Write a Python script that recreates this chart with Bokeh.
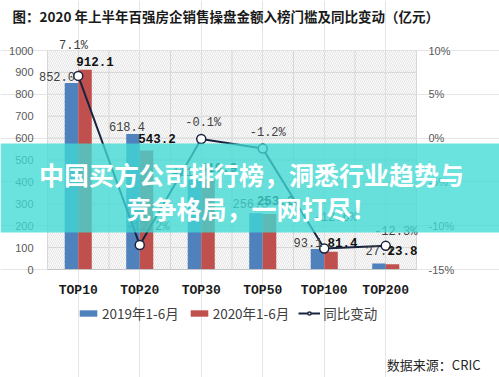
from bokeh.plotting import figure
from bokeh.models import (Range1d, LinearAxis, FixedTicker, PrintfTickFormatter, ColumnDataSource,
                          LabelSet, Label, BoxAnnotation, Legend, LegendItem)
from bokeh.transform import dodge
from bokeh.core.properties import value
from bokeh.embed import file_html
from bokeh.resources import INLINE

# ---------------- data ----------------
categories = ["TOP10", "TOP20", "TOP30", "TOP50", "TOP100", "TOP200"]
sales_2019 = [852.0, 618.4, 411.3, 256.3, 93.1, 27.1]
sales_2020 = [912.1, 543.2, 410.9, 253.2, 81.4, 23.8]
yoy_pct = [7.1, -12.2, -0.1, -1.2, -12.6, -12.3]
left_ticks = [0, 100, 200, 300, 400, 500, 600, 700, 800, 900, 1000]
right_ticks = [-15, -10, -5, 0, 5, 10]
series_names = ["2019年1-6月", "2020年1-6月", "同比变动"]
title_text = "图：2020 年上半年百强房企销售操盘金额入榜门槛及同比变动（亿元）"
source_text = "数据来源：CRIC"
banner_lines = ["中国买方公司排行榜，洞悉行业趋势与", "竞争格局，一网打尽！"]

# label nudges in px (x right, y up) -- layout only
dx19 = [-14.5, -6, -5, -5.5, -9.5, 1]
dy19 = [6.4, 7.6, 8, 10, 6.6, 13]
dx20 = [10, 10.5, 10.5, 6, 11.5, 10]
dy20 = [8.6, 12, 12, 13.6, 9, 14]
dxp = [-4.75, 8, 2, 5, 11, 10]
dyp = [30, 18, 16, 16, 30, 14]

# ---------------- layout (pixels) ----------------
W, H = 499, 377
PL, PR, PT, PB = 47, 416, 50, 269   # plot area edges on the canvas

positions = list(range(1, len(categories) + 1))          # category slots on the x scale
edges = [q - 0.5 for q in positions] + [positions[-1] + 0.5]
kx = (PR - PL) / (edges[-1] - edges[0])
ky = (PB - PT) / (left_ticks[-1] - left_ticks[0])
kp = (PB - PT) / (right_ticks[-1] - right_ticks[0])
x_start, x_end = edges[0] - PL / kx, edges[-1] + (W - PR) / kx
y_start, y_end = left_ticks[0] - (H - PB) / ky, left_ticks[-1] + PT / ky
p_start, p_end = right_ticks[0] - (H - PB) / kp, right_ticks[-1] + PT / kp

src = ColumnDataSource(dict(
    x=positions, cat=categories, v19=sales_2019, v20=sales_2020, pct=yoy_pct,
    t19=["%.1f" % v for v in sales_2019],
    t20=["%.1f" % v for v in sales_2020],
    tp=["%.1f%%" % v for v in yoy_pct],
    dx19=dx19, dy19=dy19, dx20=dx20, dy20=dy20, dxp=dxp, dyp=dyp,
))

p = figure(width=W, height=H, x_range=Range1d(x_start, x_end), y_range=Range1d(y_start, y_end),
           x_axis_location=None, y_axis_location=None, min_border=0,
           output_backend="svg", toolbar_location=None,
           outline_line_color=None, background_fill_color="white", border_fill_color="white")
p.title.visible = False
p.extra_y_ranges = {"pct": Range1d(p_start, p_end)}

grey = "#595959"
gridc = "#d9d9d9"

def style_axis(a, standoff, font, size, color, bold=False):
    a.axis_line_color = None
    a.major_tick_line_color = None
    a.minor_tick_line_color = None
    a.major_tick_out = 0
    a.major_tick_in = 0
    a.major_label_standoff = standoff
    a.major_label_text_font = font
    a.major_label_text_font_size = size
    a.major_label_text_color = color
    if bold:
        a.major_label_text_font_style = "bold"

yl = LinearAxis(fixed_location=edges[0], ticker=FixedTicker(ticks=left_ticks),
                bounds=(left_ticks[0], left_ticks[-1]))
style_axis(yl, 14, "Liberation Sans", "11px", grey)
p.add_layout(yl, "left")

yr = LinearAxis(y_range_name="pct", fixed_location=edges[-1], ticker=FixedTicker(ticks=right_ticks),
                formatter=PrintfTickFormatter(format="%d%%"), bounds=(right_ticks[0], right_ticks[-1]))
style_axis(yr, 12, "Liberation Sans", "11px", grey)
p.add_layout(yr, "right")

xb = LinearAxis(fixed_location=left_ticks[0], ticker=FixedTicker(ticks=positions),
                major_label_overrides={q: c for q, c in zip(positions, categories)},
                bounds=(edges[0], edges[-1]))
style_axis(xb, 13, "Liberation Mono", "13px", "#1a1a1a", bold=True)
xb.axis_line_color = "#c4c4c4"
p.add_layout(xb, "below")

# plot-area background hatch and grid
p.add_layout(BoxAnnotation(left=edges[0], right=edges[-1], bottom=left_ticks[0], top=left_ticks[-1],
                           fill_alpha=0, line_color=None, hatch_pattern="\\", hatch_color="#cfcfcf",
                           hatch_scale=4, hatch_weight=0.6, level="underlay"))
p.segment(x0=[edges[0]] * len(left_ticks), x1=[edges[-1]] * len(left_ticks), y0=left_ticks, y1=left_ticks,
          line_color=gridc, line_width=1, level="underlay")
p.segment(x0=edges, x1=edges, y0=[left_ticks[0]] * len(edges), y1=[left_ticks[-1]] * len(edges),
          line_color=gridc, line_width=1, level="underlay")

blue = "#4f81bd"
red = "#c0504d"
navy = "#17233f"
b19 = p.vbar(x=dodge("x", -0.11), top="v19", width=0.22, source=src, fill_color=blue, line_color=None)
b20 = p.vbar(x=dodge("x", 0.11), top="v20", width=0.22, source=src, fill_color=red, line_color=None)
ln = p.line(x="x", y="pct", y_range_name="pct", source=src, line_color=navy, line_width=2)
sc = p.scatter(x="x", y="pct", y_range_name="pct", source=src, marker="circle", size=9,
               fill_color="white", line_color=navy, line_width=1.5)

# data labels
p.add_layout(LabelSet(x=dodge("x", -0.11), y="v19", text="t19", x_offset="dx19", y_offset="dy19",
                      source=src, text_align="center", text_baseline="middle",
                      text_font=value("Liberation Mono"), text_font_size="12px", text_color="#404040"))
p.add_layout(LabelSet(x=dodge("x", 0.11), y="v20", text="t20", x_offset="dx20", y_offset="dy20",
                      source=src, text_align="center", text_baseline="middle",
                      text_font=value("Liberation Mono"), text_font_style="bold",
                      text_font_size="12.5px", text_color="#111111"))
p.add_layout(LabelSet(x="x", y="pct", y_range_name="pct", text="tp", x_offset="dxp", y_offset="dyp",
                      source=src, text_align="center", text_baseline="middle",
                      text_font=value("Liberation Mono"), text_font_size="12px", text_color="#404040"))

legend = Legend(items=[LegendItem(label=series_names[0], renderers=[b19]),
                       LegendItem(label=series_names[1], renderers=[b20]),
                       LegendItem(label=series_names[2], renderers=[ln, sc])],
                location=(77, 54), orientation="horizontal", glyph_width=22, glyph_height=8,
                label_standoff=3, spacing=9, padding=0, margin=0, border_line_color=None,
                background_fill_alpha=0, label_text_font="Noto Sans CJK SC",
                label_text_font_size="13.5px", label_text_color="#404040", label_height=14)
p.add_layout(legend)

# title & source
p.add_layout(Label(x=12, y=H - 15, x_units="screen", y_units="screen", text=title_text,
                   text_font="Noto Sans CJK SC", text_font_style="bold", text_font_size="13.5px",
                   text_baseline="middle", text_align="left", text_color="#1a1a1a"))
p.add_layout(Label(x=480, y=H - 364, x_units="screen", y_units="screen", text=source_text,
                   text_font="Noto Sans CJK SC", text_font_size="13px",
                   text_baseline="middle", text_align="right", text_color="#262626"))

# banner overlay
p.add_layout(BoxAnnotation(left=0, right=W, top=H - 143, bottom=H - 232,
                           left_units="screen", right_units="screen",
                           top_units="screen", bottom_units="screen",
                           fill_color="#40dad5", fill_alpha=0.78, line_color=None, level="overlay"))
for txt, yc in zip(banner_lines, [173, 207]):
    p.add_layout(Label(x=251, y=H - yc, x_units="screen", y_units="screen", text=txt,
                       text_font="Noto Sans CJK SC", text_font_style="bold", text_font_size="25px",
                       text_baseline="middle", text_align="center", text_color="white",
                       level="overlay"))

open("out.html", "w").write(file_html(p, INLINE))
